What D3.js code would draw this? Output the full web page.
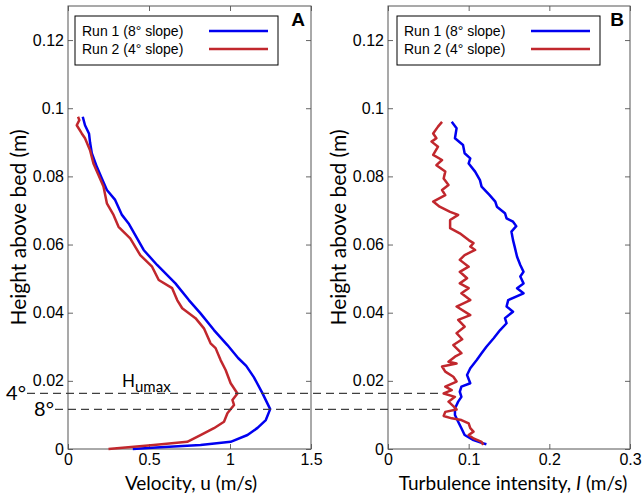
<!DOCTYPE html>
<html>
<head>
<meta charset="utf-8">
<script src="https://cdn.jsdelivr.net/npm/d3@7"></script>
<style>
  body { margin: 0; background: #fff; }
  svg { display: block; }
  .tick text { font-family: "Liberation Sans", Arial, sans-serif; font-size: 16px; fill: #000; }
  .tick line { stroke: #666; }
</style>
</head>
<body>
<svg id="chart" width="643" height="498"></svg>
<script>
// series: [value, height above bed (m)], top to bottom
var velocityRun1 = [
  [0.091,0.0975],[0.105,0.0950],[0.130,0.0925],[0.136,0.0900],[0.147,0.0868],[0.178,0.0828],
  [0.209,0.0794],[0.240,0.0760],[0.291,0.0731],[0.333,0.0687],[0.374,0.0662],[0.467,0.0584],
  [0.550,0.0540],[0.663,0.0486],[0.746,0.0437],[0.818,0.0398],[0.901,0.0349],[0.984,0.0305],
  [1.050,0.0267],[1.100,0.0244],[1.147,0.0211],[1.200,0.0164],[1.248,0.0117],[1.221,0.0085],
  [1.170,0.0062],[1.108,0.0041],[1.004,0.0021],[0.818,0.0012],[0.570,0.0005],[0.400,0.0]
];
var velocityRun2 = [
  [0.062,0.0975],[0.070,0.0965],[0.054,0.0950],[0.085,0.0926],[0.105,0.0912],[0.136,0.0877],
  [0.157,0.0838],[0.188,0.0804],[0.219,0.0770],[0.240,0.0721],[0.281,0.0687],[0.312,0.0652],
  [0.384,0.0618],[0.446,0.0569],[0.519,0.0535],[0.560,0.0496],[0.643,0.0472],[0.674,0.0437],
  [0.705,0.0413],[0.787,0.0384],[0.839,0.0354],[0.880,0.0310],[0.911,0.0296],[0.942,0.0261],
  [0.973,0.0232],[1.004,0.0193],[1.046,0.0163],[1.015,0.0144],[1.025,0.0129],[0.984,0.0105],
  [0.963,0.0080],[0.901,0.0061],[0.818,0.0041],[0.736,0.0021],[0.529,0.0012],[0.250,0.0]
];
var turbRun1 = [
  [0.079,0.0960],[0.085,0.0941],[0.083,0.0912],[0.093,0.0892],[0.095,0.0868],[0.102,0.0853],
  [0.100,0.0838],[0.108,0.0814],[0.114,0.0789],[0.116,0.0770],[0.126,0.0745],[0.133,0.0726],
  [0.135,0.0711],[0.145,0.0692],[0.147,0.0677],[0.155,0.0667],[0.159,0.0654],[0.153,0.0638],
  [0.155,0.0613],[0.157,0.0594],[0.160,0.0564],[0.164,0.0540],[0.168,0.0520],[0.164,0.0506],
  [0.168,0.0486],[0.160,0.0472],[0.168,0.0457],[0.149,0.0437],[0.147,0.0418],[0.155,0.0403],
  [0.145,0.0384],[0.147,0.0369],[0.139,0.0349],[0.131,0.0325],[0.122,0.0300],[0.116,0.0281],
  [0.110,0.0261],[0.102,0.0237],[0.098,0.0217],[0.102,0.0193],[0.091,0.0183],[0.089,0.0168],
  [0.091,0.0153],[0.087,0.0139],[0.083,0.0119],[0.083,0.0100],[0.087,0.0080],[0.091,0.0061],
  [0.095,0.0041],[0.106,0.0026],[0.116,0.0018],[0.122,0.0014]
];
var turbRun2 = [
  [0.067,0.0960],[0.062,0.0946],[0.056,0.0926],[0.060,0.0912],[0.054,0.0902],[0.062,0.0887],
  [0.056,0.0863],[0.067,0.0848],[0.060,0.0833],[0.071,0.0814],[0.069,0.0794],[0.075,0.0775],
  [0.067,0.0760],[0.071,0.0745],[0.056,0.0726],[0.064,0.0711],[0.077,0.0696],[0.087,0.0687],
  [0.077,0.0672],[0.077,0.0648],[0.089,0.0633],[0.100,0.0613],[0.106,0.0604],[0.102,0.0594],
  [0.108,0.0584],[0.095,0.0569],[0.089,0.0555],[0.100,0.0535],[0.089,0.0520],[0.098,0.0501],
  [0.089,0.0486],[0.100,0.0472],[0.091,0.0457],[0.102,0.0437],[0.085,0.0418],[0.102,0.0393],
  [0.087,0.0379],[0.095,0.0359],[0.085,0.0340],[0.092,0.0322],[0.081,0.0305],[0.091,0.0281],
  [0.083,0.0271],[0.075,0.0256],[0.085,0.0251],[0.067,0.0242],[0.071,0.0227],[0.081,0.0212],
  [0.085,0.0198],[0.071,0.0183],[0.079,0.0173],[0.069,0.0163],[0.083,0.0153],[0.075,0.0139],
  [0.081,0.0126],[0.085,0.0116],[0.071,0.0109],[0.069,0.0097],[0.079,0.0090],[0.091,0.0085],
  [0.100,0.0075],[0.102,0.0061],[0.106,0.0051],[0.100,0.0041],[0.106,0.0031],[0.116,0.0021],
  [0.118,0.0012]
];

var seriesNames   = ['Run 1 (8\u00b0 slope)', 'Run 2 (4\u00b0 slope)'];
var seriesColors  = ['#0000f0', '#c1272d'];
var heightTicks   = [0, 0.02, 0.04, 0.06, 0.08, 0.1, 0.12];
var velocityTicks = [0, 0.5, 1, 1.5];
var turbTicks     = [0, 0.1, 0.2, 0.3];
var hUmax         = [0.0163, 0.0116];   // 4 deg, 8 deg
var hUmaxLabels   = ['4\u00b0', '8\u00b0'];

var svg = d3.select('#chart');
var top_y = 6, bottom_y = 449;

var scale_y = d3.scaleLinear().domain([0, 0.13]).range([bottom_y, top_y]);
var scale_xa = d3.scaleLinear().domain([0, 1.5]).range([68, 311]);
var scale_xb = d3.scaleLinear().domain([0, 0.3]).range([388, 630]);

var fmt = function(d){ return String(+d.toFixed(2)); };

var line = function(sx){
  return d3.line().x(function(d){ return sx(d[0]); }).y(function(d){ return scale_y(d[1]); });
};

var titleFont = 'Lato, sans-serif';

function panel(sx, xTicks, runs, letter, legendX) {
  var x0 = sx.range()[0], x1 = sx.range()[1];
  var g = svg.append('g');

  // axes, ticks pointing inward on all four sides
  g.append('g').attr('transform', 'translate(' + x0 + ',0)')
   .call(d3.axisLeft(scale_y).tickValues(heightTicks).tickFormat(fmt).tickSizeInner(-5).tickSizeOuter(0).tickPadding(4));
  g.append('g').attr('transform', 'translate(' + x1 + ',0)')
   .call(d3.axisRight(scale_y).tickValues(heightTicks).tickFormat('').tickSizeInner(-5).tickSizeOuter(0));
  g.append('g').attr('transform', 'translate(0,' + bottom_y + ')')
   .call(d3.axisBottom(sx).tickValues(xTicks).tickFormat(fmt).tickSizeInner(-5).tickSizeOuter(0).tickPadding(5));
  g.append('g').attr('transform', 'translate(0,' + top_y + ')')
   .call(d3.axisTop(sx).tickValues(xTicks).tickFormat('').tickSizeInner(-5).tickSizeOuter(0));
  g.selectAll('.domain').remove();
  g.append('rect').attr('x', x0).attr('y', top_y).attr('width', x1 - x0).attr('height', bottom_y - top_y)
   .attr('fill', 'none').attr('stroke', '#555').attr('stroke-width', 1);

  runs.forEach(function(r, i){
    g.append('path').datum(r).attr('d', line(sx)).attr('fill', 'none')
     .attr('stroke', seriesColors[i]).attr('stroke-width', 2.5).attr('stroke-linejoin', 'round');
  });

  // legend
  var lg = g.append('g').attr('transform', 'translate(' + legendX + ',16)');
  lg.append('rect').attr('width', 203).attr('height', 49).attr('fill', '#fff').attr('stroke', '#000').attr('stroke-width', 1);
  seriesNames.forEach(function(n, i){
    lg.append('text').attr('x', 7).attr('y', 20 + i * 18).text(n)
      .style('font-family', '"Liberation Sans", Arial, sans-serif').style('font-size', '14px');
    lg.append('line').attr('x1', 134).attr('x2', 193).attr('y1', 15 + i * 18).attr('y2', 15 + i * 18)
      .attr('stroke', seriesColors[i]).attr('stroke-width', 2.5);
  });

  g.append('text').attr('x', x1 - 6).attr('y', 26).attr('text-anchor', 'end').text(letter)
   .style('font-family', '"Liberation Sans", Arial, sans-serif').style('font-size', '19px').style('font-weight', 'bold');

  g.append('text').attr('transform', 'translate(' + (x0 - 42) + ',' + ((top_y + bottom_y) / 2) + ') rotate(-90)')
   .attr('text-anchor', 'middle').text('Height above bed (m)')
   .style('font-family', titleFont).style('font-size', '21px');
  return g;
}

panel(scale_xa, velocityTicks, [velocityRun1, velocityRun2], 'A', 75);
panel(scale_xb, turbTicks, [turbRun1, turbRun2], 'B', 397);

svg.append('text').attr('x', 191).attr('y', 490).attr('text-anchor', 'middle')
   .style('font-family', titleFont).style('font-size', '19px').text('Velocity, u (m/s)');
var tb = svg.append('text').attr('x', 513).attr('y', 490).attr('text-anchor', 'middle')
   .style('font-family', titleFont).style('font-size', '19px');
tb.append('tspan').text('Turbulence intensity, ');
tb.append('tspan').style('font-style', 'italic').text('I');
tb.append('tspan').text(' (m/s)');

// H_umax dashed lines running across both panels
var dashStart = [27, 55];
hUmax.forEach(function(h, i){
  svg.append('line').attr('x1', dashStart[i]).attr('x2', scale_xb(0.067))
     .attr('y1', scale_y(h)).attr('y2', scale_y(h))
     .attr('stroke', '#404040').attr('stroke-width', 1.3).attr('stroke-dasharray', '8,5');
  svg.append('text').attr('x', dashStart[i] - 1).attr('y', scale_y(h) + 7).attr('text-anchor', 'end')
     .style('font-family', titleFont).style('font-size', '20px').text(hUmaxLabels[i]);
});
var hl = svg.append('text').attr('x', 122).attr('y', 387)
   .style('font-family', titleFont).style('font-size', '17px');
hl.append('tspan').text('H');
hl.append('tspan').attr('dy', 5).style('font-size', '15px').text('umax');
</script>
</body>
</html>
